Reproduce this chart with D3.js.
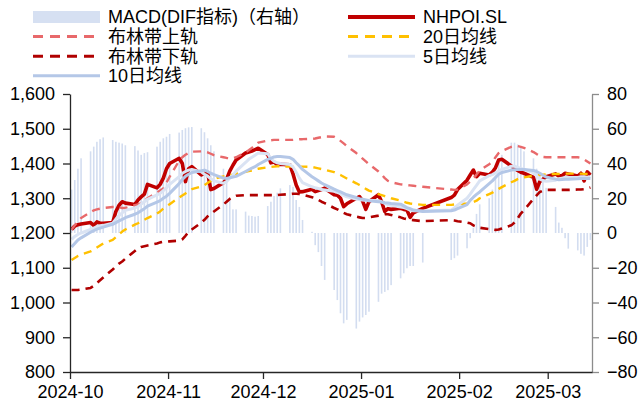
<!DOCTYPE html>
<html>
<head>
<meta charset="utf-8">
<script src="https://cdn.jsdelivr.net/npm/d3@7"></script>
<style>
body { margin: 0; background: #fff; }
svg text { font-family: "Liberation Sans", Arial, "Noto Sans CJK SC", sans-serif; fill: #000; }
</style>
</head>
<body>
<svg class="chart" width="638" height="403"></svg>
<script>
// trading days shown on the chart
var dates = [
  "2024-10-01","2024-10-02","2024-10-03","2024-10-04","2024-10-07","2024-10-08","2024-10-09","2024-10-10","2024-10-11",
  "2024-10-14","2024-10-15","2024-10-16","2024-10-17","2024-10-18","2024-10-21","2024-10-22","2024-10-23","2024-10-24",
  "2024-10-25","2024-10-28","2024-10-29","2024-10-30","2024-10-31",
  "2024-11-01","2024-11-04","2024-11-05","2024-11-06","2024-11-07","2024-11-08","2024-11-11","2024-11-12","2024-11-13",
  "2024-11-14","2024-11-15","2024-11-18","2024-11-19","2024-11-20","2024-11-21","2024-11-22","2024-11-25","2024-11-26",
  "2024-11-27","2024-11-28","2024-11-29",
  "2024-12-02","2024-12-03","2024-12-04","2024-12-05","2024-12-06","2024-12-09","2024-12-10","2024-12-11","2024-12-12",
  "2024-12-13","2024-12-16","2024-12-17","2024-12-18","2024-12-19","2024-12-20","2024-12-23","2024-12-24","2024-12-25",
  "2024-12-26","2024-12-27","2024-12-30","2024-12-31",
  "2025-01-01","2025-01-02","2025-01-03","2025-01-06","2025-01-07","2025-01-08","2025-01-09","2025-01-10","2025-01-13",
  "2025-01-14","2025-01-15","2025-01-16","2025-01-17","2025-01-20","2025-01-29","2025-01-30","2025-01-31",
  "2025-02-03","2025-02-04","2025-02-05","2025-02-06","2025-02-07","2025-02-10","2025-02-11","2025-02-12","2025-02-13",
  "2025-02-14","2025-02-17","2025-02-18","2025-02-19","2025-02-20","2025-02-21","2025-02-24","2025-02-25","2025-02-26",
  "2025-02-27","2025-02-28",
  "2025-03-03","2025-03-04","2025-03-05","2025-03-06","2025-03-07","2025-03-10","2025-03-11","2025-03-12","2025-03-13",
  "2025-03-14"
];

var nhpoi = [
  1210,1220,1224,1226,1230,1222,1232,1228,1228,1230,1262,1280,1290,1286,1282,1295,1304,1312,1340,1330,1340,1358,1385,
  1400,1415,1400,1348,1385,1391,1367,1372,1374,1325,1328,1345,1355,1378,1395,1410,1430,1433,1436,1440,1444,
  1426,1402,1404,1397,1398,1396,1370,1338,1318,1319,1326,1319,1322,1325,1329,1310,1309,1300,1276,1284,1300,1305,
  1292,1268,1290,1310,1290,1262,1270,1268,1271,1268,1266,1245,1258,1271,1302,1309,1325,
  1352,1367,1381,1362,1372,1367,1375,1388,1410,1412,1393,1387,1380,1375,1372,1360,1326,1348,1355,1362,
  1370,1364,1365,1372,1370,1364,1372,1350,1376,1367
];

// MACD DIF, right axis
var macd = [
  25,30.5,37,43,47,49.7,52.5,54,55,53.5,52.5,52,51.5,50.5,50,47.5,45,46,46.5,49.7,52.5,54.5,55.4,
  57,57.8,59.3,60.3,60.8,61,60.3,58,54.5,50.5,47,37,32,19,13.6,13.6,12.3,10,9.8,9.4,9.8,
  15.5,18,21.3,23.2,25.7,27.6,26.6,19,15,7.5,0.7,-7,-11,-19,-27,-32.8,-38.6,-46.2,-52,-50,-55,-51,
  -48.6,-47.2,-45.3,-39.6,-34.9,-33.9,-32.9,-30,-26.1,-23.2,-20.3,-19,-19,-17,-15.5,-14.5,-13,
  -8.8,-3,3,11,16.5,20,25,32,40,45,52,52,51,50,47,43,37,33,30,26,
  15,6,3,-3,-9,-10,-12,-13,-8,-4
];

var bollUpper = [
  1210,1222,1233,1243,1260,1265,1268,1270,1272,1275,1275,1274,1272,1272,1280,1282,1286,1292,1300,1316,1322,1328,1345,
  1362,1408,1418,1425,1430,1434,1435,1434,1432,1428,1424,1418,1416,1415,1415,1418,1432,1438,1445,1452,1460,
  1466,1467,1468,1468,1468,1468,1468,1469,1470,1470,1471,1472,1474,1476,1478,1477,1472,1465,1458,1450,1430,1422,
  1414,1406,1398,1377,1368,1358,1350,1346,1340,1339,1338,1337,1336,1333,1325,1324,1325,
  1340,1348,1357,1368,1380,1398,1405,1418,1430,1436,1448,1450,1450,1448,1445,1433,1427,1422,1419,1418,
  1418,1418,1418,1418,1418,1418,1416,1412,1406,1400
];

var bollLower = [
  1036,1036,1036,1037,1042,1048,1056,1064,1072,1095,1104,1112,1118,1126,1148,1156,1160,1162,1164,1170,1173,1175,1175,
  1176,1178,1182,1192,1203,1210,1230,1238,1248,1255,1262,1282,1290,1298,1304,1307,1309,1309,1309,1309,1309,
  1309,1309,1309,1309,1310,1312,1313,1313,1312,1310,1303,1300,1295,1290,1286,1272,1268,1263,1258,1254,1247,1245,
  1243,1243,1245,1250,1252,1254,1254,1252,1245,1242,1240,1238,1237,1234,1237,1236,1234,
  1230,1228,1222,1218,1215,1211,1210,1209,1210,1213,1222,1230,1242,1256,1266,1298,1308,1318,1322,1324,
  1324,1324,1324,1324,1324,1325,1325,1326,1328,1331
];

var ma20 = [
  1122,1128,1134,1138,1147,1152,1158,1164,1170,1180,1188,1196,1204,1210,1224,1228,1233,1238,1243,1256,1262,1270,1276,
  1283,1302,1308,1314,1320,1326,1334,1338,1344,1350,1356,1363,1364,1366,1368,1370,1376,1378,1380,1383,1385,
  1389,1390,1391,1392,1392,1391,1391,1391,1391,1391,1390,1388,1386,1384,1382,1375,1371,1367,1362,1357,1343,1338,
  1333,1327,1322,1312,1309,1306,1303,1300,1293,1290,1287,1285,1284,1281,1281,1282,1283,
  1285,1287,1289,1293,1300,1312,1316,1322,1327,1332,1346,1350,1355,1358,1360,1365,1366,1367,1368,1369,
  1370,1370,1370,1371,1371,1371,1371,1370,1370,1370
];

var ma5 = [
  1182,1190,1196,1200,1210,1214,1218,1221,1222,1228,1240,1250,1258,1265,1272,1276,1283,1290,1297,1310,1314,1322,1330,
  1340,1362,1372,1377,1381,1383,1376,1369,1364,1356,1350,1343,1348,1358,1367,1378,1403,1412,1418,1424,1430,
  1428,1414,1406,1402,1400,1397,1390,1375,1358,1345,1333,1330,1328,1325,1324,1320,1317,1313,1308,1304,1298,1296,
  1295,1294,1294,1293,1290,1285,1282,1280,1275,1273,1270,1266,1264,1263,1266,1272,1280,
  1300,1312,1325,1337,1350,1365,1368,1373,1378,1383,1392,1392,1389,1386,1383,1374,1365,1355,1351,1349,
  1352,1356,1358,1360,1360,1360,1362,1362,1360,1362
];

var ma10 = [
  1160,1170,1180,1186,1202,1207,1211,1214,1217,1225,1230,1235,1239,1244,1254,1258,1264,1270,1277,1289,1293,1300,1306,
  1314,1342,1354,1363,1369,1374,1379,1381,1377,1372,1368,1358,1357,1359,1361,1363,1377,1382,1387,1391,1397,
  1412,1415,1419,1420,1420,1417,1412,1402,1393,1383,1362,1356,1350,1344,1339,1326,1322,1318,1314,1310,1302,1299,
  1297,1295,1293,1290,1289,1287,1286,1285,1283,1278,1273,1270,1266,1262,1264,1266,1270,
  1282,1294,1303,1311,1318,1342,1350,1360,1369,1374,1381,1382,1383,1383,1383,1380,1377,1372,1366,1361,
  1355,1353,1354,1355,1355,1356,1357,1357,1357,1357
];

var leftTicks = [800, 900, 1000, 1100, 1200, 1300, 1400, 1500, 1600];
var rightTicks = [-80, -60, -40, -20, 0, 20, 40, 60, 80];

var svg = d3.select("svg.chart");
var plotLeft = 70, plotRight = 592, plotTop = 94, plotBottom = 372;
var parse = d3.timeParse("%Y-%m-%d");
// each day sits in the middle of its one-day slot
var days = dates.map(function(s) { return d3.timeHour.offset(parse(s), 12); });

var x = d3.scaleTime()
    .domain([parse("2024-10-01"), parse("2025-03-15")])
    .range([plotLeft, plotRight]);
var yL = d3.scaleLinear().domain([800, 1600]).range([plotBottom, plotTop]);
var yR = d3.scaleLinear().domain([-80, 80]).range([plotBottom, plotTop]);

// MACD bars
svg.append("g")
    .selectAll("rect")
    .data(macd)
    .enter().append("rect")
    .attr("x", function(d, i) { return x(days[i]) - 0.8; })
    .attr("width", 1.6)
    .attr("y", function(d) { return yR(Math.max(0, d)); })
    .attr("height", function(d) { return Math.abs(yR(d) - yR(0)); })
    .attr("fill", "#D3DDF0");

var series = [
  {name: "NHPOI.SL", values: nhpoi, color: "#C00000", width: 3.6, dash: null},
  {name: "布林带上轨", values: bollUpper, color: "#E8696B", width: 2.4, dash: "8,6"},
  {name: "20日均线", values: ma20, color: "#FFC000", width: 2.4, dash: "8,6"},
  {name: "布林带下轨", values: bollLower, color: "#B00000", width: 2.6, dash: "8,6"},
  {name: "5日均线", values: ma5, color: "#DAE3F3", width: 3, dash: null},
  {name: "10日均线", values: ma10, color: "#B4C7E7", width: 3, dash: null}
];

var line = d3.line()
    .x(function(d, i) { return x(days[i]); })
    .y(function(d) { return yL(d); });

series.forEach(function(s) {
  svg.append("path")
      .datum(s.values)
      .attr("d", line)
      .attr("fill", "none")
      .attr("stroke", s.color)
      .attr("stroke-width", s.width)
      .attr("stroke-linejoin", "round")
      .attr("stroke-dasharray", s.dash);
});

// axes
var axL = svg.append("g")
    .attr("transform", "translate(" + plotLeft + ",0)")
    .call(d3.axisLeft(yL).tickValues(leftTicks).tickFormat(d3.format(",")).tickSize(7).tickSizeOuter(0));
var axR = svg.append("g")
    .attr("transform", "translate(" + plotRight + ",0)")
    .call(d3.axisRight(yR).tickValues(rightTicks).tickSize(7).tickSizeOuter(0));
var axB = svg.append("g")
    .attr("transform", "translate(0," + plotBottom + ")")
    .call(d3.axisBottom(x).ticks(d3.timeMonth.every(1)).tickFormat(d3.timeFormat("%Y-%m")).tickSize(7).tickSizeOuter(0));

[axL, axB].forEach(function(a) {
  a.select(".domain").attr("stroke", "#262626").attr("stroke-width", 1.3);
  a.selectAll(".tick line").attr("stroke", "#262626").attr("stroke-width", 1.3);
});
axR.select(".domain").attr("stroke", "#8C8C8C").attr("stroke-width", 1.3);
axR.selectAll(".tick line").attr("stroke", "#8C8C8C").attr("stroke-width", 1.3);

svg.selectAll(".tick text").attr("font-size", 18).attr("font-family", null).attr("fill", "#000");
axL.selectAll(".tick text").attr("x", -15);
axR.selectAll(".tick text").attr("x", 15);
axB.selectAll(".tick text").attr("y", 13);

// legend, two columns
var legendItems = [
  {label: "MACD(DIF指标)（右轴）", col: 0, row: 0, rect: true, color: "#D6E0F2"},
  {label: series[0].name, col: 1, row: 0, s: series[0]},
  {label: series[1].name, col: 0, row: 1, s: series[1]},
  {label: series[2].name, col: 1, row: 1, s: series[2]},
  {label: series[3].name, col: 0, row: 2, s: series[3]},
  {label: series[4].name, col: 1, row: 2, s: series[4]},
  {label: series[5].name, col: 0, row: 3, s: series[5]}
];
var colX = [33, 348];
var legend = svg.append("g").attr("class", "legend");
legendItems.forEach(function(it) {
  var lx = colX[it.col], ly = 17 + it.row * 19.6;
  if (it.rect) {
    legend.append("rect")
        .attr("x", lx).attr("y", ly - 6).attr("width", 67).attr("height", 12)
        .attr("fill", it.color);
  } else {
    legend.append("line")
        .attr("x1", lx).attr("x2", lx + 67).attr("y1", ly).attr("y2", ly)
        .attr("stroke", it.s.color)
        .attr("stroke-width", it.s.name == "NHPOI.SL" ? 4 : 3)
        .attr("stroke-dasharray", it.s.dash ? "10,7" : null);
  }
  legend.append("text")
      .attr("x", lx + 75).attr("y", ly)
      .attr("dy", "0.36em")
      .attr("font-size", 18)
      .text(it.label);
});
</script>
</body>
</html>
